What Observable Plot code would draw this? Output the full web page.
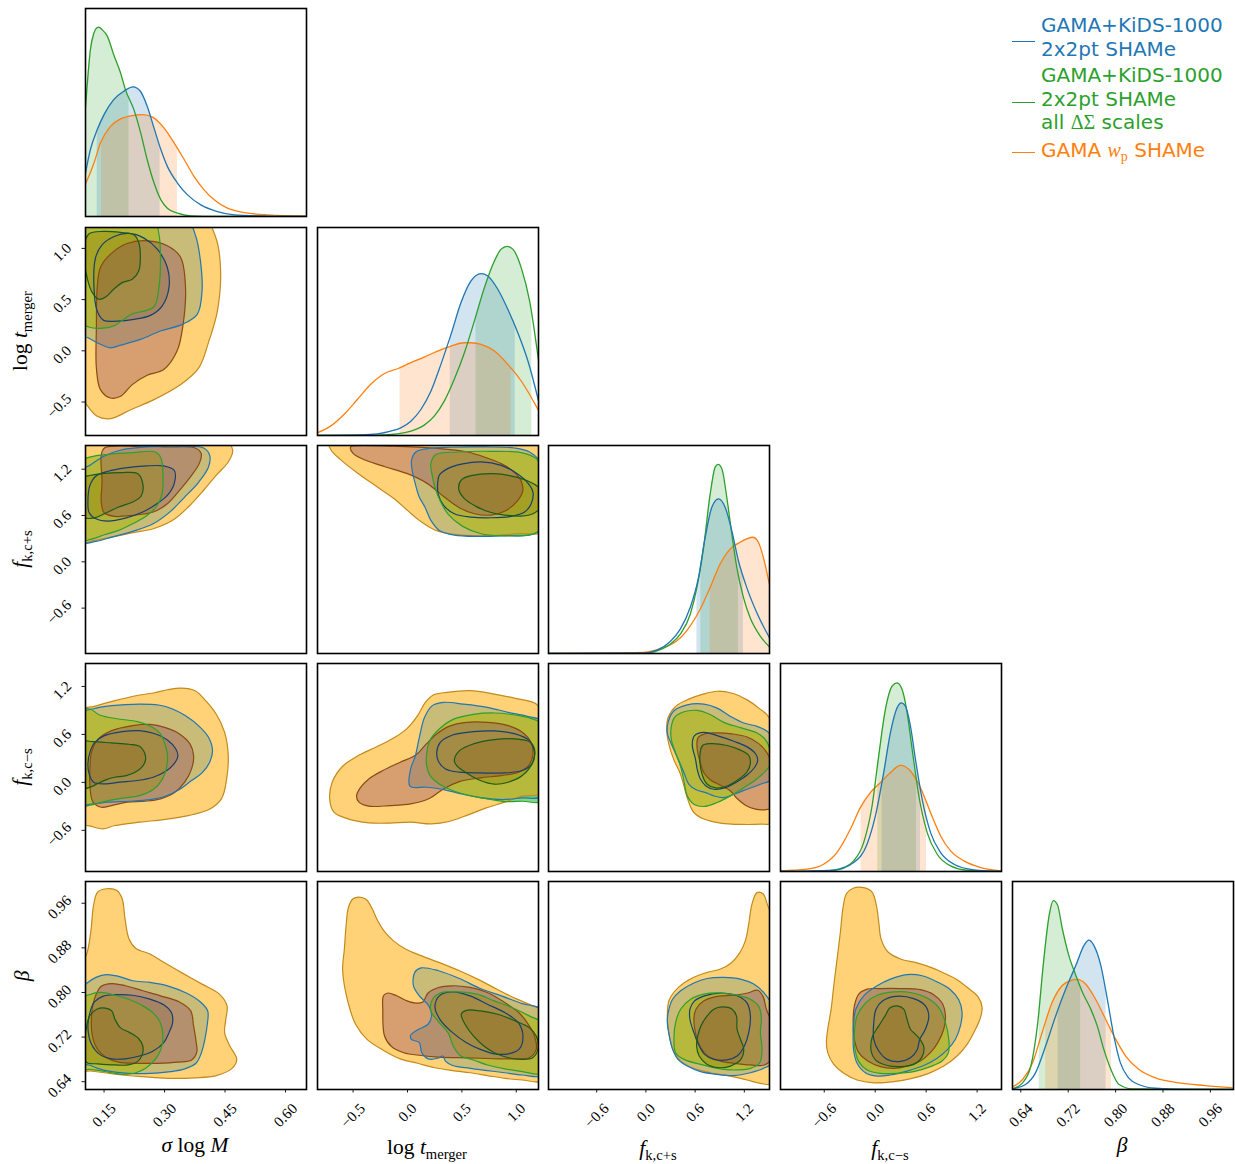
<!DOCTYPE html>
<html><head><meta charset="utf-8">
<script src="https://cdn.jsdelivr.net/npm/d3@7"></script>
<script src="https://cdn.jsdelivr.net/npm/@observablehq/plot@0.6"></script>
<style>
body{margin:0;background:#fff;}
#fig{position:relative;width:1235px;height:1164px;overflow:hidden;background:#fff;}
#fig svg{position:absolute;overflow:visible;background:transparent;}
.lab{position:absolute;font-family:"Liberation Serif",serif;font-size:21.5px;white-space:nowrap;transform:translate(-50%,-50%);line-height:1;color:#000;}
.lab sub{font-size:68%;vertical-align:-0.32em;line-height:0;}
.ylab{transform:translate(-50%,-50%) rotate(-90deg);}
.legt{position:absolute;left:1041px;font-family:"DejaVu Sans",sans-serif;font-size:20px;line-height:23.7px;white-space:nowrap;}
.legt .m{font-family:"Liberation Serif",serif;}
.legt sub{font-size:70%;vertical-align:-0.25em;line-height:0;}
.legh{position:absolute;left:1012px;width:23px;height:1.4px;}
</style></head>
<body><div id="fig"></div>
<script>
// ---------------- DATA ----------------
const seriesLabels = ["GAMA+KiDS-1000 2x2pt SHAMe", "GAMA+KiDS-1000 2x2pt SHAMe all ΔΣ scales", "GAMA w_p SHAMe"];
const ticksSigma = [0.15, 0.30, 0.45, 0.60];
const labelsSigma = ["0.15", "0.30", "0.45", "0.60"];
const ticksLogt = [-0.5, 0.0, 0.5, 1.0];
const labelsLogt = ["−0.5", "0.0", "0.5", "1.0"];
const ticksFkp = [-0.6, 0.0, 0.6, 1.2];
const labelsFkp = ["−0.6", "0.0", "0.6", "1.2"];
const ticksFkm = [-0.6, 0.0, 0.6, 1.2];
const labelsFkm = ["−0.6", "0.0", "0.6", "1.2"];
const ticksBeta = [0.64, 0.72, 0.80, 0.88, 0.96];
const labelsBeta = ["0.64", "0.72", "0.80", "0.88", "0.96"];

// 1D marginal densities [value, relative height]
const pdfSigmaGreen = [[0.104,0.522],[0.108,0.626],[0.116,0.80],[0.125,0.883],[0.133,0.908],[0.137,0.91],[0.145,0.899],[0.158,0.867],[0.174,0.778],[0.191,0.69],[0.203,0.61],[0.224,0.514],[0.241,0.401],[0.257,0.273],[0.274,0.161],[0.291,0.08],[0.307,0.04],[0.332,0.016],[0.365,0.003],[0.431,0],[0.652,0]];
const pdfSigmaBlue = [[0.104,0.209],[0.116,0.321],[0.133,0.417],[0.150,0.490],[0.174,0.562],[0.199,0.602],[0.222,0.623],[0.240,0.602],[0.257,0.530],[0.274,0.425],[0.291,0.321],[0.307,0.241],[0.332,0.161],[0.357,0.104],[0.390,0.056],[0.431,0.024],[0.473,0.008],[0.556,0.002],[0.652,0]];
const pdfSigmaOrange = [[0.104,0.156],[0.125,0.257],[0.141,0.353],[0.166,0.433],[0.191,0.469],[0.220,0.485],[0.245,0.490],[0.270,0.478],[0.299,0.425],[0.324,0.353],[0.349,0.273],[0.373,0.193],[0.398,0.128],[0.423,0.080],[0.456,0.040],[0.498,0.019],[0.556,0.008],[0.652,0.002]];
const pdfLogtBlue = [[-0.83,0],[-0.43,0.003],[-0.277,0.008],[-0.154,0.021],[-0.062,0.037],[0.031,0.069],[0.123,0.125],[0.215,0.213],[0.307,0.342],[0.40,0.486],[0.492,0.639],[0.584,0.743],[0.676,0.778],[0.738,0.767],[0.83,0.703],[0.922,0.607],[1.014,0.494],[1.107,0.358],[1.205,0.165]];
const pdfLogtGreen = [[-0.83,0],[-0.277,0.002],[-0.092,0.008],[0.031,0.021],[0.154,0.05],[0.246,0.093],[0.338,0.165],[0.43,0.27],[0.523,0.398],[0.615,0.551],[0.707,0.711],[0.799,0.839],[0.861,0.896],[0.916,0.909],[0.968,0.896],[1.045,0.807],[1.122,0.647],[1.205,0.358]];
const pdfLogtOrange = [[-0.83,0.013],[-0.707,0.045],[-0.584,0.101],[-0.461,0.173],[-0.338,0.246],[-0.215,0.297],[-0.092,0.321],[0.031,0.35],[0.154,0.377],[0.277,0.406],[0.40,0.43],[0.523,0.446],[0.584,0.446],[0.676,0.438],[0.799,0.406],[0.922,0.342],[1.045,0.262],[1.205,0.12]];
const pdfFkpBlue = [[-1.19,0],[-0.027,0.002],[0.135,0.016],[0.297,0.058],[0.419,0.117],[0.541,0.222],[0.642,0.366],[0.723,0.559],[0.804,0.703],[0.885,0.743],[0.966,0.703],[1.047,0.591],[1.128,0.446],[1.229,0.318],[1.351,0.197],[1.505,0.077]];
const pdfFkpGreen = [[-1.19,0],[-0.027,0.001],[0.135,0.013],[0.297,0.045],[0.419,0.093],[0.541,0.189],[0.622,0.318],[0.703,0.51],[0.784,0.767],[0.845,0.896],[0.881,0.909],[0.926,0.888],[0.986,0.751],[1.047,0.575],[1.108,0.414],[1.189,0.27],[1.27,0.173],[1.392,0.085],[1.505,0.032]];
const pdfFkpOrange = [[-1.19,0],[-0.027,0.005],[0.216,0.029],[0.378,0.061],[0.541,0.133],[0.662,0.213],[0.784,0.318],[0.905,0.43],[1.027,0.502],[1.149,0.535],[1.23,0.551],[1.303,0.559],[1.372,0.535],[1.432,0.462],[1.505,0.334]];
const pdfFkmBlue = [[-1.12,0],[-0.49,0.006],[-0.254,0.043],[-0.096,0.131],[0.002,0.267],[0.1,0.475],[0.179,0.667],[0.258,0.787],[0.309,0.811],[0.356,0.795],[0.415,0.699],[0.474,0.539],[0.553,0.347],[0.652,0.187],[0.77,0.091],[0.927,0.035],[1.163,0.008],[1.49,0]];
const pdfFkmGreen = [[-1.12,0],[-0.569,0.003],[-0.411,0.014],[-0.254,0.051],[-0.136,0.139],[-0.037,0.315],[0.041,0.555],[0.12,0.779],[0.199,0.891],[0.258,0.907],[0.317,0.875],[0.376,0.763],[0.435,0.587],[0.514,0.363],[0.612,0.187],[0.73,0.083],[0.888,0.027],[1.085,0.006],[1.49,0]];
const pdfFkmOrange = [[-1.12,0.003],[-0.805,0.011],[-0.608,0.035],[-0.451,0.091],[-0.293,0.203],[-0.175,0.307],[-0.057,0.379],[0.061,0.427],[0.179,0.475],[0.297,0.51],[0.415,0.483],[0.533,0.403],[0.652,0.283],[0.77,0.171],[0.888,0.099],[1.045,0.051],[1.242,0.019],[1.49,0.003]];
const pdfBetaBlue = [[0.626,0.003],[0.648,0.024],[0.665,0.081],[0.682,0.21],[0.699,0.355],[0.716,0.484],[0.733,0.597],[0.747,0.694],[0.755,0.718],[0.763,0.694],[0.775,0.597],[0.786,0.435],[0.797,0.258],[0.808,0.129],[0.822,0.056],[0.839,0.024],[0.867,0.006],[0.921,0],[0.999,0]];
const pdfBetaGreen = [[0.626,0.003],[0.643,0.032],[0.657,0.113],[0.668,0.306],[0.679,0.629],[0.688,0.839],[0.695,0.908],[0.702,0.887],[0.71,0.774],[0.721,0.645],[0.733,0.548],[0.744,0.468],[0.758,0.387],[0.769,0.306],[0.78,0.194],[0.792,0.097],[0.806,0.024],[0.828,0.003],[0.999,0]];
const pdfBetaOrange = [[0.626,0.013],[0.643,0.048],[0.66,0.129],[0.676,0.274],[0.693,0.419],[0.71,0.5],[0.724,0.524],[0.735,0.529],[0.749,0.508],[0.766,0.435],[0.783,0.339],[0.8,0.242],[0.817,0.161],[0.839,0.097],[0.867,0.056],[0.907,0.032],[0.951,0.019],[0.999,0.008]];

// credible intervals [lo, hi]
const ciSigma = {blue:[0.133,0.289], green:[0.104,0.212], orange:[0.144,0.332]};
const ciLogt = {blue:[0.393,0.990], green:[0.630,1.143], orange:[-0.068,0.953]};
const ciFkp = {blue:[0.622,1.189], green:[0.670,1.128], orange:[0.784,1.505]};
const ciFkm = {blue:[0.081,0.533], green:[0.030,0.486], orange:[-0.167,0.604]};
const ciBeta = {blue:[0.703,0.784], green:[0.671,0.741], orange:[0.682,0.793]};

// 2D contours [x, y]: B = blue, G = green, O = orange; 1 = outer, 2 = inner
const ctLogtSigma = {
 O1:[[0.083,1.336],[0.389,1.336],[0.427,1.107],[0.439,0.780],[0.431,0.388],[0.410,0.095],[0.385,-0.167],[0.340,-0.330],[0.274,-0.477],[0.216,-0.575],[0.166,-0.663],[0.133,-0.640],[0.104,-0.510],[0.083,-0.363]],
 O2:[[0.133,0.617],[0.141,0.813],[0.166,0.944],[0.207,1.048],[0.257,1.074],[0.307,1.025],[0.340,0.911],[0.352,0.617],[0.346,0.258],[0.331,-0.003],[0.298,-0.183],[0.257,-0.239],[0.220,-0.330],[0.191,-0.444],[0.166,-0.461],[0.141,-0.379],[0.131,-0.167],[0.131,0.225]],
 B1:[[0.092,0.160],[0.092,1.270],[0.356,1.270],[0.377,1.123],[0.389,0.878],[0.393,0.584],[0.381,0.356],[0.344,0.258],[0.290,0.193],[0.240,0.111],[0.191,0.055],[0.166,0.029],[0.133,0.078],[0.110,0.127]],
 B2:[[0.129,0.911],[0.145,1.035],[0.174,1.114],[0.212,1.146],[0.249,1.100],[0.282,0.993],[0.307,0.813],[0.311,0.617],[0.294,0.437],[0.265,0.346],[0.224,0.307],[0.183,0.290],[0.149,0.297],[0.133,0.388],[0.125,0.617]],
 G1:[[0.092,0.291],[0.092,1.270],[0.274,1.270],[0.286,1.140],[0.290,0.911],[0.286,0.617],[0.275,0.437],[0.249,0.388],[0.220,0.362],[0.199,0.307],[0.174,0.242],[0.141,0.219],[0.112,0.232]],
 G2:[[0.100,0.976],[0.112,1.140],[0.149,1.166],[0.191,1.156],[0.224,1.133],[0.236,1.058],[0.240,0.911],[0.236,0.780],[0.220,0.699],[0.195,0.666],[0.174,0.601],[0.154,0.526],[0.137,0.503],[0.121,0.568],[0.110,0.682]]
};
const ctFkpSigma = {
 O1:[[0.091,0.255],[0.091,1.597],[0.445,1.597],[0.469,1.445],[0.458,1.294],[0.428,1.121],[0.393,0.904],[0.359,0.710],[0.320,0.537],[0.272,0.428],[0.221,0.377],[0.169,0.320],[0.126,0.277]],
 O2:[[0.143,1.380],[0.151,1.475],[0.238,1.497],[0.307,1.488],[0.376,1.475],[0.391,1.402],[0.386,1.272],[0.367,1.121],[0.337,0.926],[0.307,0.753],[0.272,0.645],[0.221,0.602],[0.177,0.589],[0.150,0.636],[0.143,0.775],[0.145,1.034]],
 B1:[[0.091,0.255],[0.093,1.164],[0.117,1.259],[0.151,1.372],[0.190,1.445],[0.255,1.488],[0.341,1.497],[0.397,1.475],[0.412,1.380],[0.409,1.229],[0.385,1.034],[0.350,0.839],[0.315,0.653],[0.272,0.493],[0.221,0.394],[0.169,0.320],[0.130,0.264]],
 B2:[[0.110,0.775],[0.115,0.991],[0.130,1.112],[0.160,1.173],[0.203,1.216],[0.255,1.242],[0.298,1.242],[0.324,1.186],[0.324,1.013],[0.307,0.861],[0.281,0.753],[0.246,0.645],[0.203,0.567],[0.160,0.528],[0.130,0.558],[0.113,0.636]],
 G1:[[0.091,0.277],[0.091,1.294],[0.117,1.359],[0.160,1.393],[0.221,1.415],[0.277,1.423],[0.291,1.346],[0.296,1.121],[0.294,0.883],[0.281,0.723],[0.255,0.593],[0.221,0.493],[0.186,0.407],[0.151,0.351],[0.117,0.290]],
 G2:[[0.095,1.077],[0.117,1.121],[0.151,1.147],[0.195,1.156],[0.233,1.143],[0.246,1.013],[0.242,0.852],[0.221,0.775],[0.186,0.710],[0.151,0.623],[0.124,0.567],[0.100,0.580]]
};
const ctFkpLogt = {
 O1:[[-0.722,1.553],[-0.701,1.445],[-0.615,1.324],[-0.461,1.151],[-0.277,0.969],[-0.123,0.818],[0.0,0.666],[0.108,0.537],[0.246,0.416],[0.430,0.355],[0.707,0.338],[1.014,0.364],[1.260,0.407],[1.260,1.575]],
 O2:[[-0.523,1.488],[-0.498,1.402],[-0.384,1.315],[-0.200,1.229],[0.0,1.142],[0.184,1.013],[0.338,0.839],[0.476,0.701],[0.615,0.623],[0.768,0.606],[0.907,0.666],[1.014,0.796],[1.060,0.926],[1.039,1.064],[0.968,1.177],[0.861,1.272],[0.722,1.350],[0.553,1.423],[0.277,1.471],[-0.123,1.497],[-0.461,1.506]],
 B1:[[0.037,1.315],[0.077,1.423],[0.184,1.467],[0.400,1.484],[0.707,1.488],[0.984,1.475],[1.122,1.423],[1.230,1.272],[1.245,0.450],[1.137,0.351],[0.922,0.338],[0.646,0.329],[0.430,0.346],[0.292,0.407],[0.215,0.537],[0.160,0.710],[0.108,0.839],[0.071,1.013],[0.046,1.164]],
 B2:[[0.277,1.012],[0.292,1.121],[0.369,1.207],[0.507,1.268],[0.676,1.294],[0.861,1.250],[0.999,1.151],[1.107,1.021],[1.153,0.904],[1.137,0.753],[1.076,0.645],[0.953,0.589],[0.768,0.571],[0.584,0.580],[0.430,0.623],[0.332,0.731],[0.283,0.874]],
 G1:[[0.215,1.272],[0.261,1.389],[0.461,1.423],[0.768,1.432],[1.045,1.415],[1.183,1.337],[1.245,1.142],[1.245,0.450],[1.137,0.355],[0.861,0.338],[0.676,0.364],[0.507,0.459],[0.375,0.615],[0.301,0.788],[0.252,0.969],[0.224,1.142]],
 G2:[[0.470,0.948],[0.498,1.064],[0.599,1.121],[0.784,1.142],[0.968,1.108],[1.107,1.047],[1.214,0.948],[1.223,0.710],[1.153,0.623],[1.045,0.593],[0.891,0.606],[0.753,0.645],[0.630,0.718],[0.523,0.818]]
};
const ctFkmSigma = {
 O1:[[0.091,-0.498],[0.091,0.897],[0.126,0.951],[0.177,1.022],[0.229,1.084],[0.272,1.118],[0.307,1.159],[0.341,1.180],[0.376,1.147],[0.402,1.022],[0.428,0.855],[0.449,0.626],[0.458,0.335],[0.454,0.043],[0.441,-0.206],[0.410,-0.340],[0.359,-0.415],[0.298,-0.465],[0.238,-0.498],[0.177,-0.540],[0.147,-0.581],[0.117,-0.548]],
 O2:[[0.115,0.168],[0.119,0.377],[0.136,0.543],[0.169,0.647],[0.221,0.710],[0.264,0.726],[0.302,0.685],[0.337,0.606],[0.363,0.481],[0.372,0.335],[0.367,0.168],[0.350,0.002],[0.324,-0.131],[0.290,-0.206],[0.251,-0.236],[0.208,-0.248],[0.169,-0.290],[0.143,-0.311],[0.122,-0.240],[0.115,-0.040]],
 B1:[[0.091,-0.269],[0.091,0.855],[0.121,0.918],[0.169,0.960],[0.238,0.980],[0.285,0.968],[0.320,0.918],[0.354,0.826],[0.386,0.701],[0.409,0.564],[0.419,0.397],[0.412,0.252],[0.393,0.118],[0.367,0.023],[0.337,-0.090],[0.302,-0.173],[0.264,-0.215],[0.212,-0.236],[0.160,-0.248],[0.121,-0.269]],
 B2:[[0.110,0.231],[0.115,0.377],[0.127,0.501],[0.151,0.585],[0.195,0.635],[0.238,0.647],[0.272,0.614],[0.307,0.531],[0.328,0.418],[0.333,0.327],[0.322,0.222],[0.302,0.135],[0.272,0.064],[0.233,0.023],[0.190,0.002],[0.151,-0.019],[0.124,0.002],[0.113,0.106]],
 G1:[[0.091,-0.290],[0.091,0.897],[0.115,0.918],[0.139,0.843],[0.186,0.793],[0.233,0.760],[0.265,0.701],[0.288,0.618],[0.300,0.493],[0.307,0.356],[0.305,0.189],[0.294,0.035],[0.272,-0.090],[0.238,-0.165],[0.195,-0.198],[0.151,-0.240],[0.119,-0.281]],
 G2:[[0.093,0.510],[0.121,0.510],[0.169,0.493],[0.212,0.477],[0.238,0.452],[0.250,0.377],[0.253,0.285],[0.245,0.198],[0.227,0.127],[0.205,0.085],[0.177,0.064],[0.156,0.035],[0.136,-0.011],[0.117,-0.057],[0.093,-0.073]]
};
const ctFkmLogt = {
 O1:[[-0.715,-0.206],[-0.692,0.002],[-0.596,0.202],[-0.452,0.335],[-0.292,0.439],[-0.131,0.551],[-0.003,0.676],[0.093,0.835],[0.164,1.001],[0.237,1.093],[0.365,1.126],[0.574,1.147],[0.798,1.105],[0.990,1.051],[1.183,0.980],[1.247,0.793],[1.247,-0.123],[1.055,-0.173],[0.894,-0.248],[0.718,-0.323],[0.558,-0.406],[0.381,-0.490],[0.221,-0.519],[0.029,-0.498],[-0.163,-0.510],[-0.356,-0.506],[-0.548,-0.456],[-0.676,-0.373]],
 O2:[[-0.468,-0.173],[-0.436,-0.073],[-0.356,0.043],[-0.227,0.148],[-0.067,0.252],[0.077,0.343],[0.173,0.481],[0.269,0.606],[0.381,0.701],[0.542,0.751],[0.734,0.751],[0.926,0.710],[1.055,0.626],[1.135,0.501],[1.151,0.335],[1.112,0.210],[1.022,0.127],[0.862,0.085],[0.670,0.056],[0.478,0.010],[0.333,-0.081],[0.205,-0.198],[0.029,-0.269],[-0.163,-0.290],[-0.356,-0.298],[-0.446,-0.248]],
 B1:[[0.023,-0.048],[0.029,0.168],[0.071,0.327],[0.109,0.564],[0.157,0.814],[0.228,0.960],[0.333,1.001],[0.510,0.980],[0.734,0.939],[0.926,0.876],[1.103,0.826],[1.247,0.751],[1.247,-0.165],[1.055,-0.194],[0.878,-0.215],[0.670,-0.190],[0.494,-0.144],[0.333,-0.090],[0.173,-0.061]],
 B2:[[0.269,0.377],[0.301,0.501],[0.414,0.593],[0.606,0.635],[0.798,0.643],[0.990,0.606],[1.119,0.522],[1.167,0.377],[1.144,0.231],[1.055,0.148],[0.894,0.118],[0.670,0.118],[0.478,0.127],[0.349,0.168],[0.285,0.260]],
 G1:[[0.176,0.210],[0.176,0.356],[0.205,0.522],[0.292,0.668],[0.414,0.785],[0.606,0.851],[0.798,0.868],[0.990,0.843],[1.135,0.801],[1.247,0.710],[1.247,-0.227],[1.055,-0.236],[0.894,-0.240],[0.734,-0.206],[0.574,-0.165],[0.414,-0.102],[0.292,-0.019],[0.208,0.085]],
 G2:[[0.430,0.273],[0.478,0.397],[0.606,0.481],[0.798,0.535],[0.990,0.543],[1.119,0.510],[1.167,0.418],[1.151,0.252],[1.055,0.085],[0.926,0.002],[0.798,-0.023],[0.670,0.023],[0.542,0.118],[0.452,0.210]]
};
const ctFkmFkp = {
 O1:[[0.253,0.659],[0.269,0.805],[0.362,0.950],[0.524,1.041],[0.707,1.107],[0.869,1.140],[1.051,1.115],[1.234,1.032],[1.376,0.929],[1.517,0.784],[1.538,-0.501],[1.396,-0.522],[1.153,-0.526],[0.909,-0.509],[0.707,-0.459],[0.585,-0.377],[0.512,-0.219],[0.464,-0.045],[0.415,0.121],[0.342,0.278],[0.281,0.473]],
 O2:[[0.626,0.411],[0.634,0.556],[0.727,0.610],[0.869,0.618],[1.051,0.606],[1.234,0.568],[1.376,0.485],[1.477,0.369],[1.538,0.204],[1.538,-0.314],[1.444,-0.343],[1.335,-0.335],[1.213,-0.285],[1.112,-0.202],[1.031,-0.107],[0.909,-0.037],[0.788,0.030],[0.707,0.121],[0.658,0.266]],
 B1:[[0.261,0.618],[0.273,0.763],[0.342,0.896],[0.504,0.970],[0.707,0.979],[0.869,0.929],[1.031,0.825],[1.193,0.742],[1.355,0.701],[1.477,0.639],[1.538,0.556],[1.538,0.046],[1.396,-0.024],[1.234,-0.086],[1.072,-0.149],[0.950,-0.190],[0.828,-0.169],[0.727,-0.128],[0.618,-0.095],[0.524,-0.024],[0.464,0.121],[0.395,0.287],[0.322,0.452]],
 B2:[[0.565,0.473],[0.593,0.585],[0.707,0.626],[0.869,0.585],[1.072,0.514],[1.234,0.444],[1.335,0.361],[1.363,0.278],[1.331,0.195],[1.234,0.092],[1.112,0.009],[0.970,-0.066],[0.828,-0.086],[0.731,-0.045],[0.666,0.038],[0.626,0.162],[0.605,0.287]],
 G1:[[0.310,0.535],[0.310,0.701],[0.350,0.813],[0.464,0.883],[0.626,0.900],[0.788,0.846],[0.950,0.751],[1.153,0.684],[1.355,0.618],[1.457,0.535],[1.517,0.390],[1.517,0.224],[1.457,0.141],[1.335,0.030],[1.193,-0.066],[1.031,-0.169],[0.869,-0.252],[0.707,-0.302],[0.585,-0.273],[0.504,-0.169],[0.464,0.017],[0.423,0.195],[0.362,0.369]],
 G2:[[0.658,0.328],[0.691,0.461],[0.788,0.485],[0.991,0.461],[1.153,0.403],[1.254,0.336],[1.274,0.237],[1.234,0.133],[1.132,0.038],[0.991,-0.045],[0.849,-0.070],[0.747,-0.024],[0.691,0.079]]
};
const ctBetaSigma = {
 O1:[[0.091,0.662],[0.091,0.848],[0.107,0.869],[0.117,0.908],[0.124,0.956],[0.134,0.980],[0.156,0.986],[0.182,0.983],[0.195,0.968],[0.202,0.932],[0.212,0.896],[0.229,0.879],[0.264,0.869],[0.298,0.854],[0.341,0.836],[0.393,0.815],[0.436,0.797],[0.455,0.776],[0.452,0.752],[0.449,0.728],[0.462,0.704],[0.479,0.680],[0.466,0.663],[0.428,0.651],[0.376,0.647],[0.307,0.646],[0.246,0.649],[0.195,0.652],[0.151,0.656],[0.119,0.659]],
 O2:[[0.119,0.758],[0.126,0.788],[0.143,0.811],[0.169,0.816],[0.203,0.812],[0.246,0.803],[0.290,0.794],[0.337,0.783],[0.365,0.767],[0.372,0.740],[0.378,0.713],[0.380,0.693],[0.367,0.679],[0.333,0.675],[0.281,0.673],[0.229,0.673],[0.186,0.675],[0.156,0.683],[0.134,0.698],[0.121,0.722]],
 B1:[[0.091,0.674],[0.091,0.806],[0.108,0.817],[0.130,0.827],[0.156,0.832],[0.186,0.829],[0.221,0.821],[0.264,0.818],[0.311,0.811],[0.354,0.799],[0.389,0.783],[0.407,0.767],[0.406,0.743],[0.400,0.716],[0.391,0.691],[0.378,0.673],[0.350,0.663],[0.315,0.658],[0.264,0.655],[0.212,0.655],[0.169,0.658],[0.134,0.664],[0.113,0.670]],
 B2:[[0.110,0.737],[0.115,0.764],[0.126,0.783],[0.147,0.793],[0.177,0.796],[0.221,0.795],[0.264,0.788],[0.298,0.778],[0.317,0.764],[0.320,0.746],[0.311,0.728],[0.298,0.710],[0.272,0.695],[0.238,0.686],[0.203,0.681],[0.169,0.681],[0.139,0.689],[0.119,0.707]],
 G1:[[0.091,0.662],[0.091,0.787],[0.113,0.796],[0.143,0.800],[0.177,0.795],[0.214,0.787],[0.246,0.776],[0.272,0.763],[0.290,0.745],[0.296,0.722],[0.291,0.698],[0.277,0.680],[0.255,0.665],[0.229,0.656],[0.199,0.653],[0.169,0.656],[0.139,0.660],[0.113,0.662]],
 G2:[[0.100,0.686],[0.104,0.728],[0.115,0.759],[0.132,0.770],[0.153,0.772],[0.169,0.767],[0.177,0.752],[0.190,0.737],[0.214,0.728],[0.236,0.717],[0.246,0.704],[0.245,0.689],[0.233,0.676],[0.210,0.670],[0.177,0.670],[0.134,0.672],[0.108,0.674]]
};
const ctBetaLogt = {
 O1:[[-0.596,0.839],[-0.580,0.878],[-0.564,0.920],[-0.542,0.953],[-0.500,0.968],[-0.445,0.971],[-0.381,0.967],[-0.324,0.950],[-0.275,0.929],[-0.211,0.909],[-0.131,0.893],[-0.019,0.878],[0.125,0.866],[0.301,0.853],[0.478,0.839],[0.654,0.823],[0.830,0.805],[1.007,0.788],[1.151,0.776],[1.247,0.767],[1.247,0.643],[1.055,0.643],[0.894,0.646],[0.734,0.651],[0.574,0.656],[0.414,0.660],[0.253,0.665],[0.093,0.673],[-0.067,0.681],[-0.227,0.697],[-0.372,0.716],[-0.477,0.743],[-0.542,0.779]],
 O2:[[-0.227,0.770],[-0.221,0.794],[-0.179,0.799],[-0.099,0.794],[-0.003,0.785],[0.077,0.781],[0.141,0.783],[0.189,0.799],[0.285,0.809],[0.414,0.812],[0.574,0.809],[0.734,0.800],[0.894,0.782],[1.022,0.764],[1.103,0.745],[1.167,0.722],[1.183,0.698],[1.119,0.683],[0.990,0.681],[0.830,0.681],[0.670,0.682],[0.478,0.683],[0.285,0.684],[0.125,0.687],[-0.035,0.692],[-0.147,0.703],[-0.211,0.722]],
 B1:[[0.055,0.812],[0.067,0.836],[0.125,0.844],[0.285,0.839],[0.478,0.825],[0.670,0.807],[0.862,0.794],[1.055,0.780],[1.247,0.767],[1.247,0.653],[1.055,0.652],[0.894,0.656],[0.734,0.660],[0.574,0.664],[0.414,0.669],[0.349,0.677],[0.324,0.686],[0.279,0.682],[0.189,0.681],[0.131,0.692],[0.109,0.710],[0.035,0.716],[0.029,0.723],[0.093,0.733],[0.189,0.743],[0.221,0.758],[0.196,0.776],[0.109,0.794]],
 B2:[[0.253,0.773],[0.292,0.794],[0.414,0.801],[0.574,0.794],[0.734,0.779],[0.894,0.764],[1.022,0.745],[1.061,0.722],[1.029,0.699],[0.926,0.690],[0.798,0.690],[0.670,0.698],[0.542,0.710],[0.414,0.728],[0.301,0.751]],
 G1:[[0.215,0.767],[0.228,0.787],[0.301,0.799],[0.478,0.801],[0.638,0.797],[0.798,0.785],[0.958,0.773],[1.119,0.758],[1.247,0.743],[1.247,0.656],[1.055,0.658],[0.894,0.663],[0.734,0.670],[0.606,0.679],[0.484,0.687],[0.420,0.704],[0.375,0.727],[0.292,0.746]],
 G2:[[0.494,0.761],[0.542,0.768],[0.670,0.767],[0.830,0.761],[0.990,0.749],[1.119,0.737],[1.183,0.722],[1.199,0.698],[1.151,0.683],[1.055,0.680],[0.926,0.683],[0.798,0.692],[0.702,0.704],[0.606,0.722],[0.529,0.743]]
};
const ctBetaFkp = {
 O1:[[0.261,0.758],[0.285,0.787],[0.403,0.810],[0.565,0.826],[0.747,0.836],[0.909,0.842],[1.039,0.853],[1.144,0.871],[1.213,0.893],[1.254,0.923],[1.294,0.959],[1.355,0.979],[1.428,0.977],[1.485,0.956],[1.558,0.926],[1.558,0.638],[1.396,0.637],[1.234,0.643],[1.031,0.650],[0.788,0.656],[0.585,0.664],[0.431,0.676],[0.342,0.693],[0.293,0.717]],
 O2:[[0.585,0.752],[0.610,0.770],[0.707,0.785],[0.869,0.793],[1.072,0.795],[1.242,0.799],[1.363,0.804],[1.428,0.793],[1.469,0.770],[1.538,0.743],[1.538,0.683],[1.444,0.670],[1.274,0.670],[1.072,0.673],[0.909,0.677],[0.755,0.686],[0.674,0.700],[0.626,0.716]],
 B1:[[0.261,0.746],[0.273,0.765],[0.322,0.787],[0.423,0.803],[0.585,0.817],[0.747,0.825],[0.950,0.827],[1.153,0.824],[1.315,0.815],[1.436,0.800],[1.538,0.776],[1.538,0.674],[1.436,0.664],[1.274,0.656],[1.072,0.651],[0.869,0.653],[0.666,0.658],[0.504,0.668],[0.391,0.680],[0.326,0.698],[0.285,0.722]],
 B2:[[0.537,0.752],[0.537,0.770],[0.593,0.785],[0.715,0.794],[0.909,0.799],[1.112,0.794],[1.234,0.781],[1.274,0.758],[1.254,0.728],[1.201,0.704],[1.112,0.686],[0.990,0.679],[0.828,0.680],[0.715,0.689],[0.634,0.709],[0.585,0.728]],
 G1:[[0.342,0.719],[0.362,0.746],[0.423,0.770],[0.545,0.788],[0.707,0.797],[0.909,0.799],[1.112,0.795],[1.274,0.788],[1.376,0.775],[1.408,0.755],[1.396,0.728],[1.416,0.698],[1.388,0.674],[1.274,0.664],[1.072,0.661],[0.869,0.664],[0.666,0.671],[0.464,0.680],[0.362,0.692]],
 G2:[[0.618,0.704],[0.634,0.723],[0.674,0.741],[0.747,0.758],[0.828,0.770],[0.930,0.774],[1.051,0.770],[1.104,0.758],[1.112,0.734],[1.153,0.716],[1.193,0.698],[1.153,0.679],[1.031,0.668],[0.909,0.665],[0.747,0.671],[0.650,0.686]]
};
const ctBetaFkm = {
 O1:[[-0.574,0.710],[-0.559,0.734],[-0.519,0.770],[-0.488,0.812],[-0.449,0.860],[-0.410,0.908],[-0.378,0.953],[-0.339,0.977],[-0.260,0.987],[-0.135,0.988],[-0.037,0.980],[0.014,0.956],[0.042,0.926],[0.069,0.896],[0.148,0.873],[0.297,0.860],[0.493,0.853],[0.670,0.844],[0.807,0.835],[0.964,0.823],[1.102,0.807],[1.208,0.793],[1.259,0.773],[1.231,0.751],[1.160,0.728],[1.082,0.707],[0.964,0.686],[0.807,0.668],[0.631,0.655],[0.434,0.646],[0.218,0.640],[-0.017,0.638],[-0.213,0.643],[-0.370,0.655],[-0.488,0.671],[-0.559,0.692]],
 O2:[[-0.260,0.746],[-0.245,0.776],[-0.194,0.797],[-0.096,0.806],[0.061,0.807],[0.297,0.807],[0.532,0.805],[0.689,0.796],[0.788,0.781],[0.827,0.758],[0.807,0.734],[0.737,0.710],[0.650,0.692],[0.532,0.677],[0.375,0.668],[0.218,0.664],[0.061,0.667],[-0.088,0.677],[-0.194,0.692],[-0.245,0.716]],
 B1:[[-0.260,0.722],[-0.253,0.746],[-0.229,0.770],[-0.135,0.794],[0.022,0.812],[0.179,0.824],[0.375,0.832],[0.552,0.830],[0.729,0.819],[0.886,0.805],[0.984,0.787],[1.023,0.764],[1.003,0.740],[0.945,0.716],[0.847,0.697],[0.729,0.682],[0.572,0.669],[0.375,0.659],[0.179,0.652],[0.022,0.650],[-0.115,0.656],[-0.213,0.673],[-0.253,0.695]],
 B2:[[-0.017,0.716],[-0.017,0.746],[0.010,0.770],[0.089,0.785],[0.238,0.793],[0.454,0.789],[0.591,0.776],[0.631,0.757],[0.591,0.734],[0.525,0.716],[0.493,0.697],[0.415,0.683],[0.277,0.676],[0.140,0.680],[0.042,0.695]],
 G1:[[-0.241,0.701],[-0.245,0.728],[-0.213,0.758],[-0.115,0.781],[0.022,0.795],[0.218,0.801],[0.415,0.800],[0.611,0.790],[0.748,0.773],[0.827,0.746],[0.866,0.716],[0.862,0.692],[0.788,0.677],[0.650,0.667],[0.454,0.658],[0.258,0.655],[0.061,0.655],[-0.095,0.661],[-0.194,0.676]],
 G2:[[-0.048,0.695],[-0.033,0.721],[0.042,0.740],[0.120,0.759],[0.171,0.772],[0.258,0.776],[0.336,0.770],[0.375,0.752],[0.415,0.734],[0.501,0.721],[0.572,0.703],[0.552,0.685],[0.454,0.671],[0.297,0.667],[0.140,0.669],[0.003,0.679]]
};

// ---------------- LAYOUT / STYLE ----------------
const SERIF = "Liberation Serif, DejaVu Serif, serif";
const FS = 15;
const colors = {blue:"#1f77b4", green:"#2ca02c", orange:"#ff7f0e"};
const layerFill = {B1:["#50b4ff",0.65], B2:["#1a5f9e",0.4], G1:["#5ac85a",0.75], G2:["#1e6e1e",0.5], O1:["#ffaa00",0.53], O2:["#8c415f",0.35]};
const layerStroke = {O1:"#c48a1a", O2:"#8a4a14", B1:"#1f77b4", B2:"#17406e", G1:"#2ca02c", G2:"#1a5c1a"};
const params = [
  {domain:[0.104,0.652], ticks:ticksSigma, labels:labelsSigma, pdf:{blue:pdfSigmaBlue, green:pdfSigmaGreen, orange:pdfSigmaOrange}, ci:ciSigma},
  {domain:[-0.827,1.204], ticks:ticksLogt, labels:labelsLogt, pdf:{blue:pdfLogtBlue, green:pdfLogtGreen, orange:pdfLogtOrange}, ci:ciLogt},
  {domain:[-1.188,1.507], ticks:ticksFkp, labels:labelsFkp, pdf:{blue:pdfFkpBlue, green:pdfFkpGreen, orange:pdfFkpOrange}, ci:ciFkp},
  {domain:[-1.115,1.487], ticks:ticksFkm, labels:labelsFkm, pdf:{blue:pdfFkmBlue, green:pdfFkmGreen, orange:pdfFkmOrange}, ci:ciFkm},
  {domain:[0.626,0.999], ticks:ticksBeta, labels:labelsBeta, pdf:{blue:pdfBetaBlue, green:pdfBetaGreen, orange:pdfBetaOrange}, ci:ciBeta}
];
const contours = {"1,0":ctLogtSigma, "2,0":ctFkpSigma, "2,1":ctFkpLogt, "3,0":ctFkmSigma, "3,1":ctFkmLogt, "3,2":ctFkmFkp, "4,0":ctBetaSigma, "4,1":ctBetaLogt, "4,2":ctBetaFkp, "4,3":ctBetaFkm};
const colLeft = [85, 317, 548, 780, 1012];
const rowTop = [8, 227, 445, 663, 881];
const W = 221, H = 208;

function within(curve, lo, hi) {
  const at = (x) => {
    for (let i = 1; i < curve.length; i++) {
      const [x0, y0] = curve[i-1], [x1, y1] = curve[i];
      if (x >= x0 && x <= x1) return y0 + (y1 - y0) * (x - x0) / (x1 - x0);
    }
    return 0;
  };
  const out = [[lo, at(lo)]];
  for (const p of curve) if (p[0] > lo && p[0] < hi) out.push(p);
  out.push([hi, at(hi)]);
  return out;
}
// approximate size of a rotated (45°) tick label's bounding box
function labelBox(s) {
  let w = 0;
  for (const ch of s) w += ch === "." ? 0.25 : ch === "−" ? 0.564 : 0.5;
  return (w + 0.68) * FS / Math.SQRT2;
}
const textStyle = {rotate: -45, textAnchor: "middle", lineAnchor: "middle", fontSize: FS, fontFamily: SERIF, fill: "black"};

function xAxisMarks(p) {
  const marks = [Plot.axisX({ticks: p.ticks, tickSize: 3.5, tickFormat: () => "", label: null, strokeWidth: 0.9})];
  p.ticks.forEach((t, i) => {
    marks.push(Plot.text([t], {x: d => d, text: () => p.labels[i], frameAnchor: "bottom", dy: 13 + labelBox(p.labels[i]) / 2, ...textStyle}));
  });
  return marks;
}
function yAxisMarks(p) {
  const marks = [Plot.axisY({ticks: p.ticks, tickSize: 3.5, tickFormat: () => "", label: null, strokeWidth: 0.9})];
  p.ticks.forEach((t, i) => {
    marks.push(Plot.text([t], {y: d => d, text: () => p.labels[i], frameAnchor: "left", dx: -(13 + labelBox(p.labels[i]) / 2), dy: 4, ...textStyle}));
  });
  return marks;
}

const fig = document.getElementById("fig");
for (let r = 0; r < 5; r++) {
  for (let c = 0; c <= r; c++) {
    const px = params[c], py = params[r];
    const marks = [];
    if (r === c) {
      for (const s of ["green", "blue", "orange"]) {
        const [lo, hi] = px.ci[s];
        marks.push(Plot.areaY(within(px.pdf[s], lo, hi), {x: d => d[0], y: d => d[1], fill: colors[s], fillOpacity: 0.2, curve: "monotone-x", clip: true}));
      }
      for (const s of ["orange", "green", "blue"]) {
        marks.push(Plot.line(px.pdf[s], {x: d => d[0], y: d => d[1], stroke: colors[s], strokeWidth: 1.3, curve: "monotone-x", clip: true}));
      }
    } else {
      const ct = contours[r + "," + c];
      for (const k of ["B1", "B2", "G1", "G2", "O1", "O2"]) {
        marks.push(Plot.line(ct[k], {x: d => d[0], y: d => d[1], curve: "catmull-rom-closed", fill: layerFill[k][0], fillOpacity: layerFill[k][1], stroke: "none", clip: true}));
      }
      for (const k of ["O1", "O2", "B1", "B2", "G1", "G2"]) {
        marks.push(Plot.line(ct[k], {x: d => d[0], y: d => d[1], curve: "catmull-rom-closed", stroke: layerStroke[k], strokeWidth: 1.2, clip: true}));
      }
    }
    if (c === 0 && r > 0) marks.push(...yAxisMarks(py));
    if (r === 4) marks.push(...xAxisMarks(px));
    marks.push(Plot.frame({stroke: "black", strokeWidth: 1.6}));
    const svg = Plot.plot({
      width: W, height: H, margin: 0,
      x: {domain: px.domain, axis: null},
      y: {domain: r === c ? [0, 1] : py.domain, axis: null},
      marks
    });
    svg.style.left = colLeft[c] + "px";
    svg.style.top = rowTop[r] + "px";
    fig.appendChild(svg);
  }
}

// axis titles
const xTitles = [
  ['<i>σ</i> log <i>M</i>', 195, 1146],
  ['log <i>t</i><sub>merger</sub>', 427, 1148],
  ['<i>f</i><sub>k,c+s</sub>', 658, 1149],
  ['<i>f</i><sub>k,c−s</sub>', 890, 1149],
  ['<i>β</i>', 1122, 1146]
];
const yTitles = [
  ['log <i>t</i><sub>merger</sub>', 21, 331],
  ['<i>f</i><sub>k,c+s</sub>', 21, 549],
  ['<i>f</i><sub>k,c−s</sub>', 21, 767],
  ['<i>β</i>', 23, 976]
];
for (const [h, x, y] of xTitles) {
  const d = document.createElement("div"); d.className = "lab"; d.innerHTML = h;
  d.style.left = x + "px"; d.style.top = y + "px"; fig.appendChild(d);
}
for (const [h, x, y] of yTitles) {
  const d = document.createElement("div"); d.className = "lab ylab"; d.innerHTML = h;
  d.style.left = x + "px"; d.style.top = y + "px"; fig.appendChild(d);
}

// legend
const legend = [
  {html: 'GAMA+KiDS-1000<br>2x2pt SHAMe', color: colors.blue, top: 14, handle: 40.5},
  {html: 'GAMA+KiDS-1000<br>2x2pt SHAMe<br>all <span class="m">ΔΣ</span> scales', color: colors.green, top: 64, handle: 101.5},
  {html: 'GAMA <span class="m"><i>w</i><sub>p</sub></span> SHAMe', color: colors.orange, top: 139, handle: 151.5}
];
for (const L of legend) {
  const t = document.createElement("div"); t.className = "legt"; t.innerHTML = L.html;
  t.style.top = L.top + "px"; t.style.color = L.color; fig.appendChild(t);
  const h = document.createElement("div"); h.className = "legh";
  h.style.top = L.handle + "px"; h.style.background = L.color; fig.appendChild(h);
}
</script>
</body></html>
